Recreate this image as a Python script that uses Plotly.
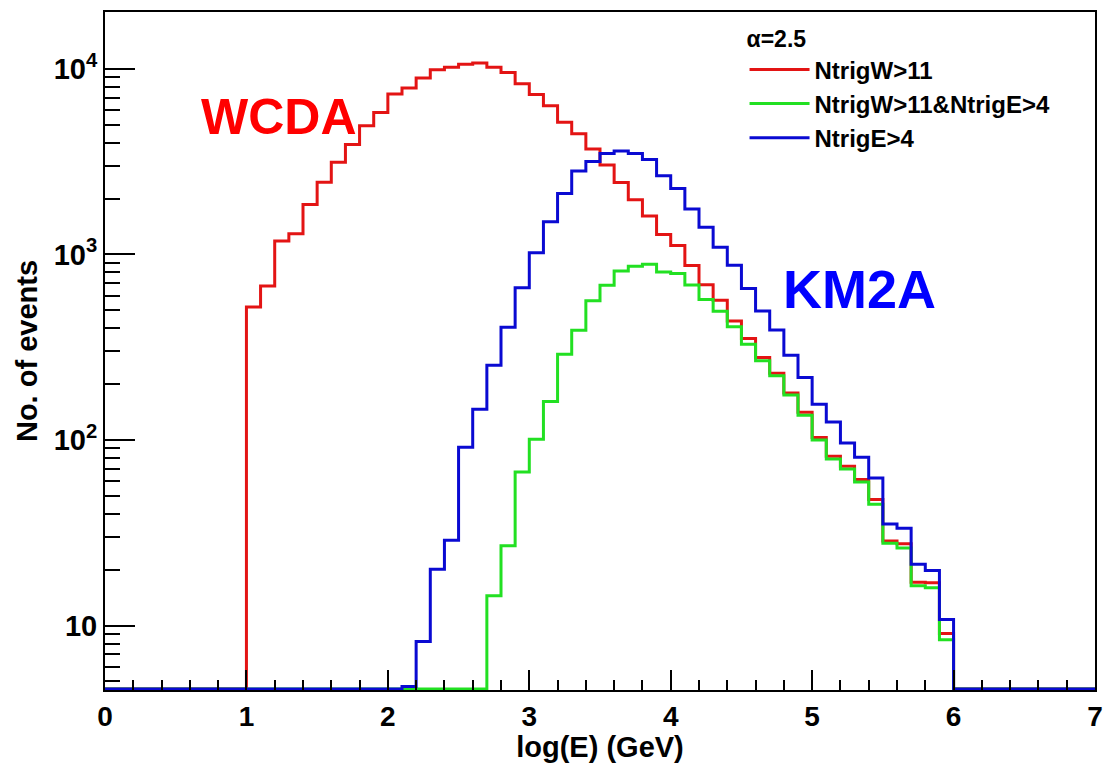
import numpy as np
import plotly.graph_objects as go

# ---- data (bin width 0.1 in log(E), bins from 0 to 7) ----
bin_width = 0.1
n_bins = 70

red_first_bin = 1.0
red_vals = [521, 675, 1179, 1292, 1857, 2448, 3135, 3904, 4937, 5823,
            7311, 7886, 8923, 9889, 10200, 10573, 10730, 10200, 9541, 8307,
            7265, 6326, 5150, 4472, 3692, 3029, 2439, 1970, 1611, 1279,
            1116, 871, 686, 566, 438, 352, 278, 229, 179, 141,
            103, 81.7, 72.2, 61.2, 47.8, 28.6, 27.6, 17.1, 17.0, 9.06]

green_first_bin = 2.7
green_vals = [14.5, 26.9, 67.2,
              101, 161, 290, 390, 562, 683, 815, 862, 885, 805,
              788, 684, 571, 494, 408, 328, 267, 222, 175, 136,
              100, 79.1, 69.8, 59.3, 45.0, 27.8, 26.2, 16.4, 16.0, 8.4]

blue_first_bin = 2.1
blue_vals = [4.7, 8.2, 20.1, 28.8, 91.4, 146.5, 252.5, 405, 661,
             1021, 1499, 2128, 2810, 3162, 3491, 3606, 3491, 3241, 2650,
             2268, 1754, 1399, 1091, 873, 654, 496, 392, 286, 217,
             156, 125, 96.3, 80.8, 62.5, 35.3, 33.5, 21.4, 19.8, 10.8]

series_names = ["NtrigW>11", "NtrigW>11&NtrigE>4", "NtrigE>4"]
series_colors = ["#e31414", "#22e022", "#0a0ad2"]

y_tick_vals = [10, 100, 1000, 10000]
y_tick_text = ["10", "10<sup>2</sup>", "10<sup>3</sup>", "10<sup>4</sup>"]
x_tick_vals = [0, 1, 2, 3, 4, 5, 6, 7]

# ---- axis ranges ----
y_log_min, y_log_max = 0.653, 4.306
floor_val = 10 ** (y_log_min + 0.006)

edges = np.round(np.arange(n_bins + 1) * bin_width, 2)


def full_hist(first_bin, vals):
    h = np.zeros(n_bins)
    i0 = int(round(first_bin / bin_width))
    h[i0:i0 + len(vals)] = vals
    h = np.maximum(h, floor_val)  # empty bins drawn on the axis floor (ROOT style)
    return np.append(h, h[-1])


hists = [full_hist(red_first_bin, red_vals),
         full_hist(green_first_bin, green_vals),
         full_hist(blue_first_bin, blue_vals)]

fig = go.Figure()
for name, col, h in zip(series_names, series_colors, hists):
    fig.add_trace(go.Scatter(x=edges, y=h, mode="lines", name=name,
                             line=dict(color=col, width=3, shape="hv")))

minor_y = [d * 10 ** e for e in range(0, 5) for d in range(2, 10)
           if y_log_min < np.log10(d * 10 ** e) < y_log_max]

FONT = "Liberation Sans, Arial, Helvetica, sans-serif"

fig.update_layout(
    width=1112, height=763,
    margin=dict(l=105, r=9, t=12, b=72),
    paper_bgcolor="white", plot_bgcolor="white",
    showlegend=True,
    legend=dict(x=0.646, y=0.992, xanchor="left", yanchor="top",
                bgcolor="rgba(255,255,255,0)", borderwidth=0,
                font=dict(family=FONT, size=24, color="black", weight="bold"),
                title=dict(text="α=2.5", font=dict(family=FONT, size=23, color="black", weight="bold")),
                itemwidth=60),
    xaxis=dict(range=[0, 7], showline=True, linecolor="black", linewidth=2, mirror=True,
               ticks="inside", ticklen=20, tickwidth=1.5, tickcolor="black",
               tickmode="array", tickvals=x_tick_vals,
               minor=dict(ticks="inside", ticklen=10, tickwidth=1.5, tickcolor="black",
                          dtick=0.2, tick0=0, showgrid=False),
               showgrid=False, zeroline=False,
               tickfont=dict(family=FONT, size=28, color="black", weight="bold"),
               title=dict(text="log(E) (GeV)", standoff=2,
                          font=dict(family=FONT, size=29, color="black", weight="bold"))),
    yaxis=dict(type="log", range=[y_log_min, y_log_max], showline=True, linecolor="black",
               linewidth=2, mirror=True,
               ticks="inside", ticklen=30, tickwidth=1.5, tickcolor="black",
               tickmode="array", tickvals=y_tick_vals, ticktext=y_tick_text,
               minor=dict(ticks="inside", ticklen=15, tickwidth=1.5, tickcolor="black",
                          tickmode="array", tickvals=minor_y, showgrid=False),
               showgrid=False, zeroline=False,
               tickfont=dict(family=FONT, size=29, color="black", weight="bold"),
               title=dict(text="No. of events", standoff=8,
                          font=dict(family=FONT, size=29, color="black", weight="bold"))),
    annotations=[
        dict(text="WCDA", x=0.1759, y=0.8446, xref="paper", yref="paper",
             showarrow=False, xanchor="center", yanchor="middle",
             font=dict(family=FONT, size=50, color="#ff0000", weight="bold")),
        dict(text="KM2A", x=0.7625, y=0.592, xref="paper", yref="paper",
             showarrow=False, xanchor="center", yanchor="middle",
             font=dict(family=FONT, size=54, color="#0000ff", weight="bold")),
    ],
)

fig.write_html("out.html")
